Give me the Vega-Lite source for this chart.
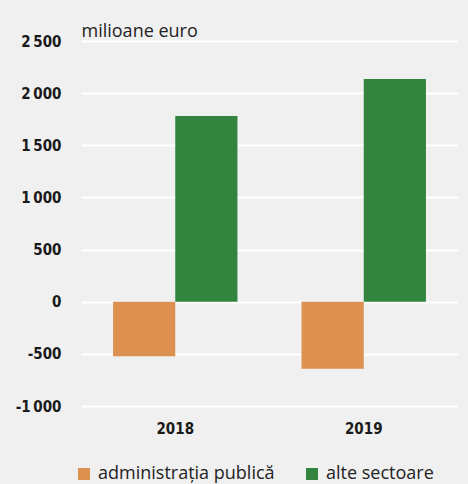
{
  "$schema": "https://vega.github.io/schema/vega-lite/v6.json",
  "width": 377,
  "height": 365,
  "autosize": {"type": "none"},
  "padding": {"left": 81, "top": 41, "right": 10, "bottom": 78},
  "background": "#f0f0f0",
  "config": {
    "view": {"stroke": null},
    "axis": {"domain": false, "ticks": false}
  },
  "data": {
    "values": [
      {"an": "2018", "sector": "administrația publică", "valoare": -522},
      {"an": "2018", "sector": "alte sectoare", "valoare": 1782},
      {"an": "2019", "sector": "administrația publică", "valoare": -644},
      {"an": "2019", "sector": "alte sectoare", "valoare": 2135}
    ]
  },
  "mark": {"type": "bar"},
  "encoding": {
    "x": {
      "field": "an",
      "type": "nominal",
      "scale": {"paddingInner": 0.34, "paddingOuter": 0.17},
      "axis": {
        "title": null,
        "labelAngle": 0,
        "labelFont": "DejaVu Sans Condensed",
        "labelFontWeight": "bold",
        "labelFontSize": 15,
        "labelColor": "#1a1a1a",
        "labelPadding": 15,
        "grid": false
      }
    },
    "xOffset": {"field": "sector", "type": "nominal", "sort": ["administrația publică", "alte sectoare"]},
    "y": {
      "field": "valoare",
      "type": "quantitative",
      "scale": {"domain": [-1000, 2500], "nice": false, "zero": false},
      "axis": {
        "values": [-1000, -500, 0, 500, 1000, 1500, 2000, 2500],
        "labelExpr": "(datum.value < 0 ? '-' : '') + replace(format(abs(datum.value), ','), ',', '\u2009')",
        "labelFont": "DejaVu Sans Condensed",
        "labelFontWeight": "bold",
        "labelFontSize": 15,
        "labelColor": "#1a1a1a",
        "labelPadding": 20,
        "gridColor": "#ffffff",
        "gridWidth": 2,
        "gridOpacity": 1,
        "title": "milioane euro",
        "titleAngle": 0,
        "titleAlign": "left",
        "titleBaseline": "alphabetic",
        "titleX": 0,
        "titleY": -5,
        "titleFont": "Open Sans",
        "titleFontWeight": "normal",
        "titleFontSize": 18,
        "titleColor": "#222222"
      }
    },
    "color": {
      "field": "sector",
      "type": "nominal",
      "sort": ["administrația publică", "alte sectoare"],
      "scale": {"range": ["#dd9150", "#32843f"]},
      "legend": {
        "title": null,
        "orient": "none",
        "direction": "horizontal",
        "legendX": -6,
        "legendY": 424,
        "symbolType": "square",
        "symbolSize": 144,
        "symbolStrokeWidth": 0,
        "symbolOpacity": 1,
        "labelFont": "Open Sans",
        "labelFontSize": 18,
        "labelColor": "#222222",
        "labelOffset": 5,
        "columnPadding": 28,
        "labelLimit": 300
      }
    }
  }
}
